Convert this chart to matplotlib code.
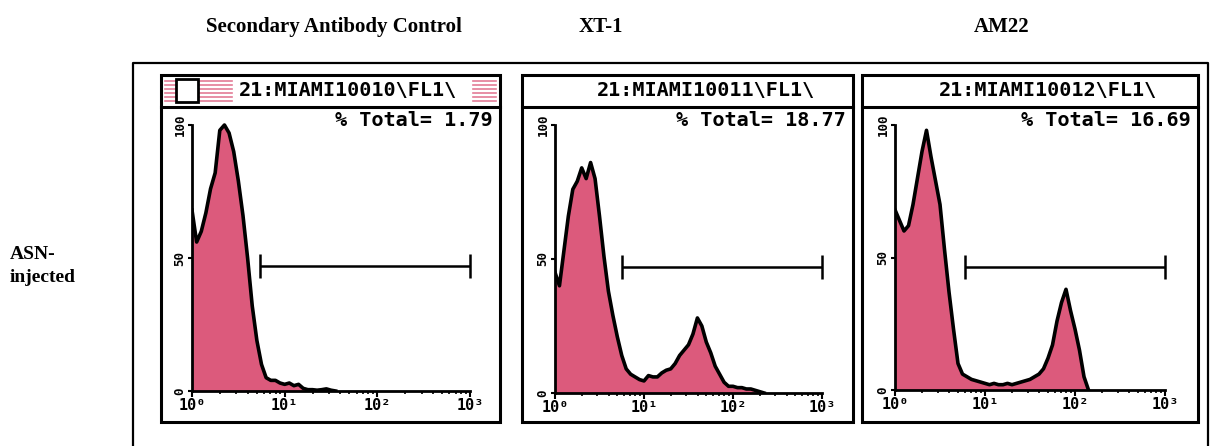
import numpy as np
import matplotlib.pyplot as plt
from matplotlib.patches import Rectangle
from matplotlib.ticker import LogLocator, NullFormatter

W, H = 1216, 446

col_titles = ["Secondary Antibody Control", "XT-1", "AM22"]
row_label = "ASN-\ninjected"
file_names = ["21:MIAMI10010\\FL1\\", "21:MIAMI10011\\FL1\\", "21:MIAMI10012\\FL1\\"]
pct_total = [1.79, 18.77, 16.69]

# FL1 channel positions (in decades, 0 -> 10^0)
fl1_decades = np.arange(0, 2.55, 0.05)

# counts (% of max)
counts_ctrl = [68, 56, 60, 67, 76, 82, 98, 100, 97, 90, 79, 66, 50, 32, 19, 10,
               5, 4, 4, 3, 2.5, 3, 2, 2.5, 1, 0.5, 0.5, 0.3, 0.5, 0.8, 0.3, 0]
counts_xt1 = [45, 40, 53, 66, 76, 79, 84, 80, 86, 80, 66, 51, 38, 29, 21, 14,
              9, 7, 6, 5, 4.5, 6.5, 6, 6, 7.5, 8.5, 9, 11, 14, 16, 18, 22,
              28, 25, 19, 15, 10, 7, 4, 2.5, 2.5, 2, 2, 1.5, 1.5, 1, 0.5, 0]
counts_am22 = [68, 64, 60, 62, 70, 80, 90, 98, 88, 79, 70, 53, 37, 23, 10, 6,
               5, 4, 3.5, 3, 2.5, 2, 2.5, 2, 2, 2.5, 2, 2.5, 3, 3.5, 4, 5,
               6, 8, 12, 17, 26, 33, 38, 30, 23, 15, 5, 0]
all_counts = [counts_ctrl, counts_xt1, counts_am22]

gate_start = [5.4, 5.6, 6.0]
gate_end = 1000
gate_level = [47, 47, 46.5]

pink = "#dc5a7c"
mono = "DejaVu Sans Mono"
serif = "Liberation Serif"

# layout in pixels
frames = [(161, 75, 500, 422), (522, 75, 853, 422), (862, 75, 1198, 422)]
plot_x = [(192, 470), (555, 822), (895, 1165)]
plot_base = [391, 393, 390]
plot_top100 = [125, 125, 125]
title_bar_y = 107
header_x = [334, 601, 1002]


def fig_rect(x0, y0, x1, y1):
    return [x0 / W, 1 - y1 / H, (x1 - x0) / W, (y1 - y0) / H]


fig = plt.figure(figsize=(W / 100, H / 100), dpi=100)
bg = fig.add_axes([0, 0, 1, 1])
bg.set_xlim(0, W)
bg.set_ylim(H, 0)
bg.axis("off")

# outer box (open at the bottom)
bg.plot([133, 133, 1208, 1208], [450, 63, 63, 450], color="black", lw=1.6,
        clip_on=False)

for i, t in enumerate(col_titles):
    bg.text(header_x[i], 27, t, ha="center", va="center", fontsize=15,
            family=serif, weight="bold")
bg.text(10, 266, row_label, ha="left", va="center", fontsize=14,
        family=serif, weight="bold", linespacing=1.5)

for i in range(3):
    x0, y0, x1, y1 = frames[i]
    bg.add_patch(Rectangle((x0, y0), x1 - x0, y1 - y0, fill=False,
                           ec="black", lw=2.2))
    bg.plot([x0, x1], [title_bar_y, title_bar_y], color="black", lw=2.2)
    bg.text((x0 + x1) / 2 + 18, 91, file_names[i], ha="center", va="center",
            fontsize=14.5, family=mono, weight="bold")
    bg.text(x1 - 7, 120, f"% Total= {pct_total[i]:.2f}", ha="right",
            va="center", fontsize=14.5, family=mono, weight="bold")

# active window stripes + close box on the first panel
for y in [81, 85, 89, 93, 97, 101]:
    bg.plot([165, 232], [y, y], color=pink, lw=1.2, alpha=0.8)
    bg.plot([473, 496], [y, y], color=pink, lw=1.2, alpha=0.8)
bg.add_patch(Rectangle((176, 79), 22, 23, fc="white", ec="black", lw=2,
                       zorder=3))

for i in range(3):
    xa, xb = plot_x[i]
    base = plot_base[i]
    scale = (base - plot_top100[i]) / 100
    top = 110
    ax = fig.add_axes(fig_rect(xa, top, xb, base))
    ax.patch.set_alpha(0)
    counts = np.array(all_counts[i], dtype=float)
    x = 10 ** fl1_decades[:len(counts)]
    ax.fill_between(x, 0, counts, color=pink, lw=0)
    ax.plot(x, counts, color="black", lw=2.6)

    gs = gate_start[i]
    gy = gate_level[i]
    ax.hlines(gy, gs, gate_end, color="black", lw=1.8, clip_on=False)
    ax.vlines([gs, gate_end], gy - 4.5, gy + 4.5, color="black", lw=1.8,
              clip_on=False)

    ax.set_xscale("log")
    ax.set_xlim(1, 1000)
    ax.set_ylim(0, (base - top) / scale)
    ax.set_xticks([1, 10, 100, 1000])
    ax.set_xticklabels(["10⁰", "10¹", "10²", "10³"], family=mono,
                       weight="bold", fontsize=11)
    ax.xaxis.set_minor_locator(LogLocator(base=10, subs=range(2, 10)))
    ax.xaxis.set_minor_formatter(NullFormatter())
    ax.set_yticks([0, 50, 100])
    ax.set_yticklabels(["0", "50", "100"], family=mono, weight="bold",
                       fontsize=9, rotation=90, va="center")
    ax.tick_params(axis="x", which="major", length=4, width=1.5, pad=1)
    ax.tick_params(axis="x", which="minor", length=2.5, width=1.2)
    ax.tick_params(axis="y", length=3, width=1.5, pad=1)
    for s in ["top", "right"]:
        ax.spines[s].set_visible(False)
    ax.spines["left"].set_bounds(0, 100)
    ax.spines["left"].set_linewidth(2)
    ax.spines["bottom"].set_linewidth(2)

fig.savefig("out.png", dpi=100)
